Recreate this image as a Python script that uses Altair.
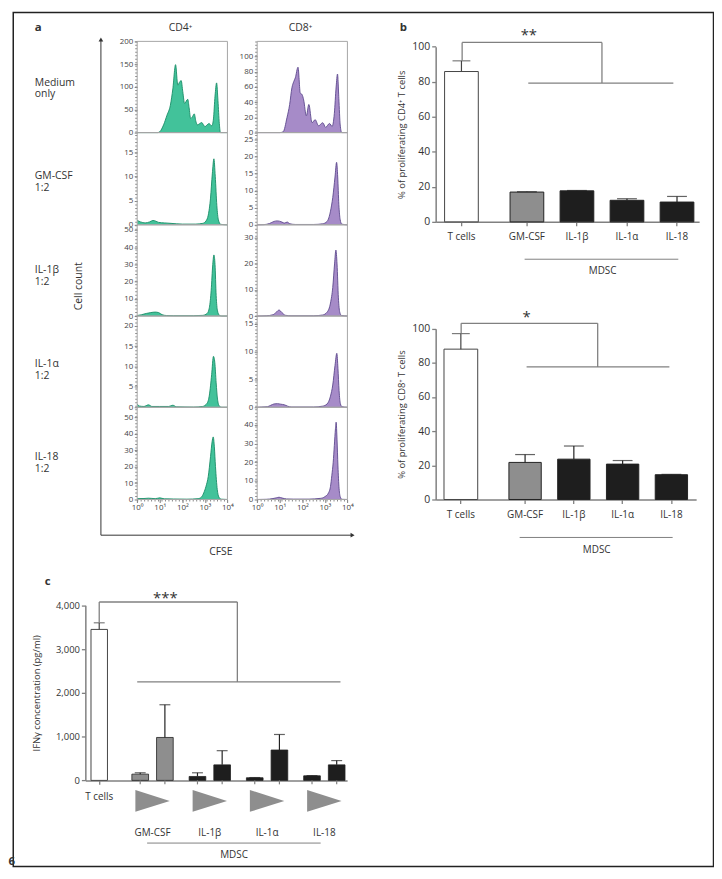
import altair as alt
import pandas as pd

# ======================= DATA =======================
# Panel a: CFSE dilution histograms (x = log10 CFSE, y = cell count)
CD4_MED_X = [0, 0.9, 1.0, 1.17, 1.32, 1.47, 1.58, 1.70, 1.80, 1.87, 1.95, 2.02, 2.10, 2.24, 2.30, 2.37, 2.45, 2.53, 2.60, 2.67, 2.78, 2.86, 2.95, 3.00, 3.10, 3.19, 3.26, 3.31, 3.38, 3.45, 3.52, 3.58, 3.64, 3.69, 4.0]
CD4_MED_Y = [0, 0, 2, 17, 38, 60, 96, 149, 104, 110, 114, 90, 64, 73, 55, 31, 35, 41, 25, 17, 20, 22, 16, 13, 17, 20, 16, 15, 30, 80, 109, 70, 20, 0, 0]
CD4_GM_X = [0, 0.15, 0.35, 0.55, 0.7, 0.8, 0.95, 1.2, 1.5, 2.0, 2.6, 2.9, 3.05, 3.15, 3.25, 3.33, 3.40, 3.46, 3.53, 3.60, 3.70, 4.0]
CD4_GM_Y = [0.9, 0.6, 0.4, 0.6, 0.9, 0.8, 0.5, 0.4, 0.3, 0.15, 0.15, 0.3, 0.8, 2.0, 5.5, 10.5, 13.6, 10, 4, 1, 0.1, 0]
CD4_1B_X = [0, 0.2, 0.4, 0.6, 0.8, 0.95, 1.1, 1.3, 1.6, 2.5, 2.9, 3.1, 3.2, 3.28, 3.35, 3.40, 3.45, 3.50, 3.56, 3.64, 3.75, 4.0]
CD4_1B_Y = [0.3, 0.8, 1.5, 2.0, 2.3, 2.0, 0.8, 0.3, 0.2, 0.2, 0.4, 1.5, 5, 15, 30, 35.5, 30, 12, 3, 0.5, 0, 0]
CD4_1A_X = [0, 0.1, 0.3, 0.5, 0.65, 1.0, 1.4, 1.58, 1.75, 2.5, 2.9, 3.1, 3.2, 3.3, 3.38, 3.44, 3.5, 3.56, 3.64, 3.75, 4.0]
CD4_1A_Y = [0.8, 0.3, 0.2, 0.6, 0.2, 0.2, 0.2, 0.5, 0.1, 0.05, 0.2, 1.0, 3, 8, 12.5, 11, 6, 2, 0.3, 0, 0]
CD4_18_X = [0, 0.3, 0.5, 0.8, 1.0, 1.2, 1.6, 2.2, 2.7, 2.85, 2.95, 3.05, 3.15, 3.25, 3.32, 3.37, 3.42, 3.47, 3.55, 3.62, 3.72, 4.0]
CD4_18_Y = [0.5, 0.6, 0.8, 0.5, 1.0, 0.4, 0.3, 0.2, 0.5, 1.5, 4, 8, 14, 26, 35, 38, 32, 20, 6, 1.5, 0.2, 0]

CD8_MED_X = [0, 1.0, 1.15, 1.32, 1.44, 1.54, 1.62, 1.69, 1.81, 1.91, 1.99, 2.06, 2.18, 2.29, 2.43, 2.57, 2.72, 2.91, 3.03, 3.21, 3.32, 3.42, 3.50, 3.56, 3.62, 3.68, 3.75, 4.0]
CD8_MED_Y = [0, 0, 1, 19.5, 37, 59, 67, 72, 86, 52, 50, 43, 22, 37, 13, 17, 9, 13, 7, 12, 8, 25, 60, 77, 45, 10, 0, 0]
CD8_GM_X = [0, 0.3, 0.55, 0.75, 0.9, 1.1, 1.2, 1.33, 1.45, 1.7, 2.5, 2.9, 3.1, 3.25, 3.35, 3.45, 3.52, 3.57, 3.62, 3.68, 3.75, 4.0]
CD8_GM_Y = [0, 0.05, 0.4, 1.0, 1.15, 0.8, 0.5, 0.8, 0.3, 0.1, 0.1, 0.3, 1, 4, 8, 14, 18.3, 14, 6, 1.5, 0.2, 0]
CD8_1B_X = [0, 0.4, 0.7, 0.85, 0.97, 1.1, 1.25, 1.5, 2.5, 2.9, 3.1, 3.25, 3.35, 3.43, 3.49, 3.54, 3.6, 3.66, 3.74, 4.0]
CD8_1B_Y = [0, 0.1, 0.5, 1.5, 2.3, 1.3, 0.3, 0.1, 0.1, 0.4, 1.5, 5, 11, 20, 25.3, 20, 7, 1.5, 0.2, 0]
CD8_1A_X = [0, 0.2, 0.45, 0.6, 0.75, 0.9, 1.05, 1.2, 1.35, 1.5, 2.5, 2.9, 3.1, 3.25, 3.35, 3.45, 3.53, 3.58, 3.63, 3.69, 3.76, 4.0]
CD8_1A_Y = [0, 0.05, 0.1, 0.35, 0.6, 0.65, 0.55, 0.45, 0.2, 0.05, 0.05, 0.2, 0.6, 2, 4, 7.5, 9.7, 7, 3, 0.6, 0.1, 0]
CD8_18_X = [0, 0.4, 0.7, 0.85, 0.97, 1.1, 1.3, 1.6, 2.3, 2.8, 3.0, 3.16, 3.25, 3.31, 3.37, 3.42, 3.47, 3.50, 3.54, 3.58, 3.63, 3.69, 3.76, 4.0]
CD8_18_Y = [0, 0.1, 0.5, 0.9, 1.2, 0.8, 0.3, 0.2, 0.2, 0.6, 1.5, 3.5, 7, 13, 20, 29, 38, 41.5, 32, 18, 6, 1.2, 0.1, 0]

HIST_CD4 = [(CD4_MED_X, CD4_MED_Y), (CD4_GM_X, CD4_GM_Y), (CD4_1B_X, CD4_1B_Y), (CD4_1A_X, CD4_1A_Y), (CD4_18_X, CD4_18_Y)]
HIST_CD8 = [(CD8_MED_X, CD8_MED_Y), (CD8_GM_X, CD8_GM_Y), (CD8_1B_X, CD8_1B_Y), (CD8_1A_X, CD8_1A_Y), (CD8_18_X, CD8_18_Y)]

# y-axis extents and ticks of each histogram (cell count)
YMAX_CD4 = [200, 19, 53, 22.4, 56]
YMAX_CD8 = [120, 27, 35, 16.4, 49.5]
TICKS_CD4 = [[0, 50, 100, 150, 200], [0, 5, 10, 15], [0, 10, 20, 30, 40, 50], [0, 5, 10, 15, 20], [0, 10, 20, 30, 40, 50]]
TICKS_CD8 = [[0, 20, 40, 60, 80, 100], [0, 5, 10, 15, 20, 25], [0, 10, 20, 30], [0, 5, 10, 15], [0, 10, 20, 30, 40]]
X_TICKS = [0, 1, 2, 3, 4]
X_TICK_LABELS = ["10⁰", "10¹", "10²", "10³", "10⁴"]
ROW_LABELS = [["Medium", "only"], ["GM-CSF", "1:2"], ["IL-1β", "1:2"], ["IL-1α", "1:2"], ["IL-18", "1:2"]]

# Panel b: % proliferating T cells
B_CATS = ["T cells", "GM-CSF", "IL-1β", "IL-1α", "IL-18"]
B_CD4_MEAN = [85.8, 17.0, 17.7, 12.3, 11.3]
B_CD4_ERRTOP = [91.9, 17.2, 17.9, 13.2, 14.5]
B_CD8_MEAN = [88.0, 21.7, 23.6, 20.7, 14.5]
B_CD8_ERRTOP = [97.1, 26.3, 31.3, 22.8, 14.7]
B_TICKS = [0, 20, 40, 60, 80, 100]

# Panel c: IFN-gamma
C_GROUPS = ["GM-CSF", "IL-1β", "IL-1α", "IL-18"]
C_DOSES = ["low", "high"]
C_LOW_MEAN = [143, 90, 60, 105]
C_LOW_ERRTOP = [174, 174, 65, 110]
C_HIGH_MEAN = [981, 355, 694, 355]
C_HIGH_ERRTOP = [1728, 679, 1049, 453]
C_T_MEAN = [3449]
C_T_ERRTOP = [3600]
C_TICKS = [0, 1000, 2000, 3000, 4000]

# ======================= LAYOUT (page pixels) =======================
M = 8
W, H = 712, 863
FONT = "Open Sans"
TXT = "#333333"
AX = "#808080"

A_COLS = [(138.3, 229.3), (259.3, 350.3)]
A_ROWS = [38, 130, 223, 315, 407, 500]
FILL = ["#42c29a", "#a68bc8"]
STROKE = ["#188c66", "#5c488c"]

ONE = pd.DataFrame({"k": [0]})
GROUP_COLORS = alt.Scale(domain=B_CATS[1:], range=["#8e8e8e", "#1e1e1e", "#1e1e1e", "#1e1e1e"])


def v(p):
    return p - M


def text(s, x, y, size=10.5, weight="normal", align="center", baseline="alphabetic", angle=0):
    return alt.Chart(ONE).mark_text(text=s, fontSize=size, fontWeight=weight, align=align,
                                    baseline=baseline, angle=angle, color=TXT, font=FONT).encode(
        x=alt.value(v(x)), y=alt.value(v(y)))


def hrule(x1, x2, y, color=AX, width=1.3, dash=None):
    kw = {"color": color, "strokeWidth": width}
    if dash:
        kw["strokeDash"] = dash
    return alt.Chart(ONE).mark_rule(**kw).encode(
        x=alt.value(v(x1)), x2=alt.value(v(x2)), y=alt.value(v(y)))


def vrule(x, y1, y2, color=AX, width=1.3, dash=None):
    kw = {"color": color, "strokeWidth": width}
    if dash:
        kw["strokeDash"] = dash
    return alt.Chart(ONE).mark_rule(**kw).encode(
        x=alt.value(v(x)), y=alt.value(v(y1)), y2=alt.value(v(y2)))


# ---------------- panel a ----------------
def hist(xs, ys, col, row, ymax, ticks):
    x0, x1 = A_COLS[col]
    yt, yb = A_ROWS[row], A_ROWS[row + 1]
    df = pd.DataFrame({"cfse": xs, "count": ys})
    xsc = alt.Scale(domain=[0, 4], range=[v(x0), v(x1)], nice=False, zero=False)
    ysc = alt.Scale(domain=[0, ymax], range=[v(yb), v(yt)], nice=False)
    if row == 4:
        xax = alt.Axis(orient="bottom", offset=v(yb) - H, values=X_TICKS,
                       labelExpr="['10⁰','10¹','10²','10³','10⁴'][datum.value]",
                       title=None, domain=False, grid=False, tickSize=3, tickColor="#777",
                       labelFontSize=8, labelPadding=1, labelColor="#444", labelFlush=False)
    else:
        xax = None
    yax = alt.Axis(orient="left", offset=-v(x0), values=ticks, title=None, domain=False, grid=False,
                   tickSize=3, tickColor="#777", labelFontSize=8, labelPadding=1.5, labelColor="#444")
    area = alt.Chart(df).mark_area(interpolate="monotone", color=FILL[col], opacity=1,
                                   line={"color": STROKE[col], "strokeWidth": 0.9}).encode(
        x=alt.X("cfse:Q", scale=xsc, axis=xax), y=alt.Y("count:Q", scale=ysc, axis=yax))
    frame = alt.Chart(ONE).mark_rect(fillOpacity=0, stroke="#a5a5a5", strokeWidth=1).encode(
        x=alt.X(datum=0, type="quantitative", scale=xsc, axis=xax), x2=alt.X2(datum=4),
        y=alt.Y(datum=0, type="quantitative", scale=ysc, axis=yax), y2=alt.Y2(datum=ymax))
    return alt.layer(area, frame)


hist_layers = []
minor_ticks = []
for r in range(5):
    hist_layers.append(hist(HIST_CD4[r][0], HIST_CD4[r][1], 0, r, YMAX_CD4[r], TICKS_CD4[r]))
    hist_layers.append(hist(HIST_CD8[r][0], HIST_CD8[r][1], 1, r, YMAX_CD8[r], TICKS_CD8[r]))
for c in range(2):
    x0, x1 = A_COLS[c]
    minor_ticks.append(vrule(x0 - 1, A_ROWS[0], A_ROWS[-1], color="#8a8a8a", width=2, dash=[1, 2.5]))
    minor_ticks.append(hrule(x0, x1, A_ROWS[-1] + 1, color="#8a8a8a", width=2, dash=[1, 2.5]))

a_text = [
    text("a", 35, 27.5, size=11.5, weight="bold", align="left"),
    text("CD4⁺", 182, 27.5),
    text("CD8⁺", 303, 27.5),
    text("Cell count", 80, 285, angle=270, baseline="middle"),
    text("CFSE", 222.7, 556),
    vrule(101.7, 37, 536, color="#333", width=1),
    hrule(101.7, 354, 536, color="#333", width=1),
    alt.Chart(ONE).mark_point(shape="triangle-up", size=22, filled=True, color="#333", opacity=1).encode(
        x=alt.value(v(101.7)), y=alt.value(v(36))),
    alt.Chart(ONE).mark_point(shape="triangle-right", size=22, filled=True, color="#333", opacity=1).encode(
        x=alt.value(v(355.5)), y=alt.value(v(536))),
]
row_base = [(83, 94.5), (177, 189), (272, 284), (366, 378), (460, 472)]
for (l1, l2), (b1, b2) in zip(ROW_LABELS, row_base):
    a_text.append(text(l1, 35, b1, align="left"))
    a_text.append(text(l2, 35, b2, align="left"))


# ---------------- panel b ----------------
def panel_b(means, errs, ytop, ybot, mrange, mpad, trange, ytitle, br):
    df = pd.DataFrame({"cat": B_CATS, "mean": means, "err": errs})
    dT = df[df["cat"] == "T cells"]
    dM = df[df["cat"] != "T cells"]
    ysc = alt.Scale(domain=[0, 100], range=[v(ybot), v(ytop)], nice=False)
    yax = alt.Axis(orient="left", offset=-v(439.3), values=B_TICKS, title=ytitle, grid=False,
                   domainColor=AX, domainWidth=1.5, tickColor=AX, tickWidth=1.3, tickSize=4,
                   labelFontSize=10.5, labelColor=TXT, labelPadding=2, titleFontSize=9.5,
                   titleFontWeight="normal", titleColor=TXT, titlePadding=5)

    def Y(f):
        return alt.Y(f + ":Q", scale=ysc, axis=yax)

    xaxM = alt.Axis(orient="bottom", offset=v(ybot) - H, title=None, grid=False, labelAngle=0,
                    domainColor=AX, domainWidth=1.5, tickColor=AX, tickWidth=1.3, tickSize=4,
                    labelFontSize=10, labelColor=TXT, labelPadding=6)
    xaxT = alt.Axis(orient="bottom", offset=v(ybot) - H, title=None, grid=False, labelAngle=0,
                    domain=False, tickColor=AX, tickWidth=1.3, tickSize=4,
                    labelFontSize=10, labelColor=TXT, labelPadding=6)
    xT = alt.X("cat:N", sort=None, axis=xaxT,
               scale=alt.Scale(domain=["T cells"], range=[v(trange[0]), v(trange[1])],
                               paddingInner=0, paddingOuter=0))
    xM = alt.X("cat:N", sort=None, axis=xaxM,
               scale=alt.Scale(domain=B_CATS[1:], range=[v(mrange[0]), v(mrange[1])],
                               paddingInner=mpad[0], paddingOuter=mpad[1], align=mpad[2]))
    tl = alt.layer(
        alt.Chart(dT).mark_bar(fill="white", stroke="#444", strokeWidth=1).encode(x=xT, y=Y("mean")),
        alt.Chart(dT).mark_rule(color="#444", strokeWidth=1.2).encode(x=xT, y=Y("mean"), y2="err:Q"),
        alt.Chart(dT).mark_tick(color="#444", thickness=1.2, size=18).encode(x=xT, y=Y("err")),
    )
    ml = alt.layer(
        alt.Chart(dM).mark_bar(stroke="#222", strokeWidth=1).encode(
            x=xM, y=Y("mean"), color=alt.Color("cat:N", scale=GROUP_COLORS, legend=None)),
        alt.Chart(dM).mark_rule(color="#222", strokeWidth=1.2).encode(x=xM, y=Y("mean"), y2="err:Q"),
        alt.Chart(dM).mark_tick(color="#222", thickness=1.2, size=20).encode(x=xM, y=Y("err")),
    )
    xl, top, xr, low, xa, xb, tipl = br

    def dv(val):
        return alt.Y(datum=val, type="quantitative", scale=ysc, axis=yax)

    bl = [
        alt.Chart(ONE).mark_rule(color=AX, strokeWidth=1.3).encode(x=alt.value(v(xl)), y=dv(tipl), y2=alt.Y2(datum=top)),
        alt.Chart(ONE).mark_rule(color=AX, strokeWidth=1.3).encode(x=alt.value(v(xl)), x2=alt.value(v(xr)), y=dv(top)),
        alt.Chart(ONE).mark_rule(color=AX, strokeWidth=1.3).encode(x=alt.value(v(xr)), y=dv(top), y2=alt.Y2(datum=low)),
        alt.Chart(ONE).mark_rule(color=AX, strokeWidth=1.3).encode(x=alt.value(v(xa)), x2=alt.value(v(xb)), y=dv(low)),
    ]
    return alt.layer(tl, ml, *bl).resolve_scale(x="independent").resolve_axis(x="independent")


b_top = panel_b(B_CD4_MEAN, B_CD4_ERRTOP, 43.3, 220, (439.3, 705), (0.326, 0.796, 0.934), (448.3, 482.3),
                "% of proliferating CD4⁺ T cells", (466, 102.4, 607, 79.2, 532.7, 679, 91.9))
b_bot = panel_b(B_CD8_MEAN, B_CD8_ERRTOP, 327.7, 500, (439.3, 702), (0.337, 0.839, 0.895), (447.7, 481.7),
                "% of proliferating CD8⁺ T cells", (465, 103.1, 602.7, 77.6, 531, 675, 97.1))

b_text = [
    text("b", 403, 27.5, size=11.5, weight="bold", align="left"),
    text("**", 533.3, 37, size=15),
    hrule(529, 684, 257.7, width=1),
    text("MDSC", 607.7, 269.3, size=10, baseline="middle"),
    text("*", 531, 321, size=15),
    hrule(524, 678.3, 538.3, width=1),
    text("MDSC", 601.7, 550.7, size=10, baseline="middle"),
]

# ---------------- panel c ----------------
c_df = pd.DataFrame({
    "group": C_GROUPS * 2,
    "dose": ["low"] * 4 + ["high"] * 4,
    "mean": C_LOW_MEAN + C_HIGH_MEAN,
    "err": C_LOW_ERRTOP + C_HIGH_ERRTOP,
})
cT_df = pd.DataFrame({"cat": ["T cells"], "mean": C_T_MEAN, "err": C_T_ERRTOP})
cG_df = pd.DataFrame({"group": C_GROUPS})

C_YTOP, C_YBOT = 606.7, 783.3
c_ysc = alt.Scale(domain=[0, 4000], range=[v(C_YBOT), v(C_YTOP)], nice=False)
c_yax = alt.Axis(orient="left", offset=-v(86), values=C_TICKS, format=",.0f", title="IFNγ concentration (pg/ml)",
                 grid=False, domainColor=AX, domainWidth=1.5, tickColor=AX, tickWidth=1.3, tickSize=4,
                 labelFontSize=9.5, labelColor=TXT, labelPadding=2, titleFontSize=9.5,
                 titleFontWeight="normal", titleColor=TXT, titlePadding=14)


def CY(f):
    return alt.Y(f + ":Q", scale=c_ysc, axis=c_yax)


cxT = alt.X("cat:N", sort=None,
            scale=alt.Scale(domain=["T cells"], range=[v(91.7), v(108.3)], paddingInner=0, paddingOuter=0),
            axis=alt.Axis(orient="bottom", offset=v(C_YBOT) - H, title=None, grid=False, labelAngle=0,
                          domain=False, tickColor=AX, tickWidth=1.3, tickSize=4, labelFontSize=10,
                          labelColor=TXT, labelPadding=7))
cxG = alt.X("group:N", sort=None,
            scale=alt.Scale(domain=C_GROUPS, range=[v(86), v(350)], paddingInner=0.278,
                            paddingOuter=0.4245, align=0.957),
            axis=alt.Axis(orient="bottom", offset=v(C_YBOT) - H, title=None, grid=False, labelAngle=0,
                          domainColor=AX, domainWidth=1.5, ticks=False, tickSize=0, labelFontSize=10,
                          labelColor=TXT, labelPadding=48))
cxO = alt.XOffset("dose:N", sort=None, scale=alt.Scale(domain=C_DOSES, paddingInner=0.325, paddingOuter=0))

c_T = alt.layer(
    alt.Chart(cT_df).mark_bar(fill="white", stroke="#444", strokeWidth=1).encode(x=cxT, y=CY("mean")),
    alt.Chart(cT_df).mark_rule(color="#444", strokeWidth=1.2).encode(x=cxT, y=CY("mean"), y2="err:Q"),
    alt.Chart(cT_df).mark_tick(color="#444", thickness=1.2, size=11).encode(x=cxT, y=CY("err")),
)
TRI = "M -1 -0.634 L 1 0 L -1 0.634 Z"
c_G = alt.layer(
    alt.Chart(c_df).mark_bar(stroke="#222", strokeWidth=0.8).encode(
        x=cxG, xOffset=cxO, y=CY("mean"), color=alt.Color("group:N", scale=GROUP_COLORS, legend=None)),
    alt.Chart(c_df).mark_rule(color="#222", strokeWidth=1.2).encode(x=cxG, xOffset=cxO, y=CY("mean"), y2="err:Q"),
    alt.Chart(c_df).mark_tick(color="#222", thickness=1.2, size=11).encode(x=cxG, xOffset=cxO, y=CY("err")),
    alt.Chart(c_df).mark_rule(color=AX, strokeWidth=1.2).encode(
        x=cxG, xOffset=cxO, y=alt.value(v(C_YBOT)), y2=alt.value(v(C_YBOT + 4))),
    alt.Chart(cG_df).mark_point(shape=TRI, size=1204, filled=True, fill="#8e8e8e", strokeWidth=0, opacity=1).encode(
        x=cxG, y=alt.value(v(804))),
)


def cdv(val):
    return alt.Y(datum=val, type="quantitative", scale=c_ysc, axis=c_yax)


c_br = [
    alt.Chart(ONE).mark_rule(color=AX, strokeWidth=1.3).encode(x=alt.value(v(100)), y=cdv(3600), y2=alt.Y2(datum=4075)),
    alt.Chart(ONE).mark_rule(color=AX, strokeWidth=1.3).encode(x=alt.value(v(100)), x2=alt.value(v(239.3)), y=cdv(4075)),
    alt.Chart(ONE).mark_rule(color=AX, strokeWidth=1.3).encode(x=alt.value(v(239.3)), y=cdv(4075), y2=alt.Y2(datum=2249)),
    alt.Chart(ONE).mark_rule(color=AX, strokeWidth=1.3).encode(x=alt.value(v(138.3)), x2=alt.value(v(343.3)), y=cdv(2249)),
]
panel_c = alt.layer(c_T, c_G, *c_br).resolve_scale(x="independent").resolve_axis(x="independent")

c_text = [
    text("c", 45, 586, size=11.5, weight="bold", align="left"),
    text("***", 166.7, 604, size=15),
    hrule(148.3, 323.3, 846.5, width=1),
    text("MDSC", 236, 859, size=10, baseline="middle"),
]

# ---------------- figure frame ----------------
frame = [
    alt.Chart(ONE).mark_rect(fillOpacity=0, stroke="#222", strokeWidth=1.5).encode(
        x=alt.value(v(13.3)), x2=alt.value(v(719.5)), y=alt.value(0.8), y2=alt.value(v(870.2))),
    text("6", 8.5, 869, size=11.5, weight="bold", align="left"),
]

chart = alt.layer(
    *minor_ticks, *hist_layers, b_top, b_bot, panel_c, *a_text, *b_text, *c_text, *frame
).resolve_scale(x="independent", y="independent").resolve_axis(x="independent", y="independent").properties(
    width=W, height=H, padding=0, autosize=alt.AutoSizeParams(type="none")
).configure(font=FONT).configure_view(stroke="transparent").configure_axis(labelFont=FONT, titleFont=FONT)

chart.save("out.html", embed_options={"renderer": "svg", "actions": False})
